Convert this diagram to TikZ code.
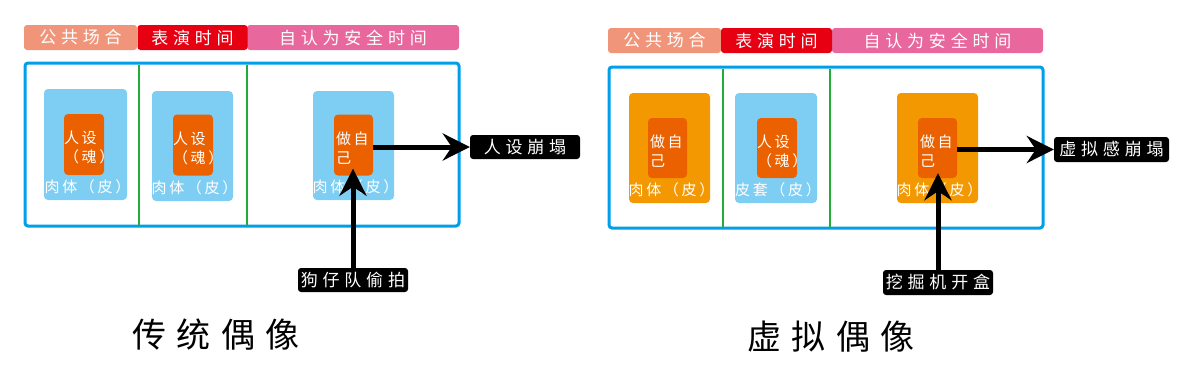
\documentclass[tikz,border=0pt]{standalone}
\usepackage{fontspec}
\newfontfamily\cjkhead[LetterSpace=28]{Noto Sans CJK SC}
\newfontfamily\cjkbox[LetterSpace=18]{Noto Sans CJK SC}
\newfontfamily\cjktitle[LetterSpace=30]{Noto Sans CJK SC}
\usetikzlibrary{arrows.meta,positioning,calc}
\definecolor{headsalmon}{HTML}{F0957A}
\definecolor{headred}{HTML}{E60012}
\definecolor{headpink}{HTML}{E8689E}
\definecolor{frameblue}{HTML}{00A0E9}
\definecolor{divgreen}{HTML}{22AC38}
\definecolor{skinblue}{HTML}{7ECEF4}
\definecolor{skinorange}{HTML}{F39800}
\definecolor{soulorange}{HTML}{EB6100}

\begin{document}
\begin{tikzpicture}[x=1pt,y=-1pt,
  seg/.style={rounded corners=3pt,minimum height=25pt,inner sep=0pt,text=white,font=\cjkhead\fontsize{17}{17}\selectfont},
  frame/.style={draw=frameblue,line width=3pt,rounded corners=3pt},
  divider/.style={draw=divgreen,line width=2.5pt},
  skin/.style={rounded corners=4pt,inner sep=0pt,minimum height=110pt},
  soul/.style={fill=soulorange,rounded corners=4pt,inner sep=0pt,minimum width=40pt,minimum height=61pt},
  boxtext/.style={text=white,font=\cjkbox\fontsize{15}{19}\selectfont,inner sep=0pt,align=left},
  tag/.style={fill=black,text=white,rounded corners=3pt,inner sep=0pt,minimum height=24pt,font=\cjkhead\fontsize{17}{17}\selectfont},
  bigarrow/.style={-{Stealth[length=27pt,width=27pt,inset=9pt]},line width=5pt},
  title/.style={font=\cjktitle\fontsize{34}{34}\selectfont}]
\useasboundingbox (0,0) rectangle (1192,383);

% traditional idol
\node[seg,fill=headsalmon,minimum width=113pt] (hpubL) at (80.5,37.5) {公共场合};
\node[seg,fill=headpink,minimum width=212pt] (hsafeL) at (353,37.5) {自认为安全时间};
\node[seg,fill=headred,minimum width=110pt] (hshowL) at (192.5,37.5) {表演时间};
\draw[frame] (25,63) rectangle (459,226);
\draw[divider] (139,64.5) -- (139,224.5);
\draw[divider] (247,64.5) -- (247,224.5);

\node[skin,fill=skinblue,minimum width=83pt,minimum height=111pt] (skinL1) at (85.5,144.5) {};
\node[skin,fill=skinblue,minimum width=81pt] (skinL2) at (192.5,146) {};
\node[skin,fill=skinblue,minimum width=81pt,minimum height=109pt] (skinL3) at (353.5,145.5) {};
\node[soul] (soulL1) at (84,144.5) {};
\node[soul] (soulL2) at (193,145) {};
\node[soul,minimum width=39pt] (soulL3) at (353.5,145) {};
\node[boxtext,anchor=west] at ([shift={(0pt,-3pt)}]soulL1.west) {人设\\（魂）};
\node[boxtext,anchor=west] at ([shift={(0pt,-3pt)}]soulL2.west) {人设\\（魂）};
\node[boxtext,anchor=west] at ([shift={(2pt,-3pt)}]soulL3.west) {做自\\己};
\node[boxtext] at ([shift={(2pt,13pt)}]skinL1.south) {肉体（皮）};
\node[boxtext] at ([shift={(2pt,13pt)}]skinL2.south) {肉体（皮）};
\node[boxtext] at ([shift={(2pt,13pt)}]skinL3.south) {肉体（皮）};

\node[tag,minimum width=110pt] (collapseL) at (525,147) {人设崩塌};
\node[tag,minimum width=110pt] (peekL) at (353,280) {狗仔队偷拍};
\draw[bigarrow] (soulL3.east |- collapseL) -- (collapseL.west);
\draw[bigarrow,shorten >=-7pt] (peekL.north) -- (peekL.north |- soulL3.south);
\node[title] (titleL) at (216,335) {传统偶像};

% virtual idol
\node[seg,fill=headsalmon,minimum width=113pt] (hpubR) at (664.5,40.5) {公共场合};
\node[seg,fill=headpink,minimum width=211pt] (hsafeR) at (937.5,40.5) {自认为安全时间};
\node[seg,fill=headred,minimum width=111pt] (hshowR) at (776.5,40.5) {表演时间};
\draw[frame] (609,67) rectangle (1043,228);
\draw[divider] (723,68.5) -- (723,226.5);
\draw[divider] (830,68.5) -- (830,226.5);

\node[skin,fill=skinorange,minimum width=81pt] (skinR1) at (669.5,148) {};
\node[skin,fill=skinblue,minimum width=82pt] (skinR2) at (776,148) {};
\node[skin,fill=skinorange,minimum width=81pt] (skinR3) at (937.5,148) {};
\node[soul,minimum width=39pt,minimum height=60pt] (soulR1) at (667.5,148) {};
\node[soul,minimum height=60pt] (soulR2) at (777,148) {};
\node[soul,minimum width=39pt,minimum height=60pt] (soulR3) at (937.5,148) {};
\node[boxtext,anchor=west] at ([shift={(2pt,-3pt)}]soulR1.west) {做自\\己};
\node[boxtext,anchor=west] at ([shift={(0pt,-3pt)}]soulR2.west) {人设\\（魂）};
\node[boxtext,anchor=west] at ([shift={(2pt,-3pt)}]soulR3.west) {做自\\己};
\node[boxtext] at ([shift={(2pt,13pt)}]skinR1.south) {肉体（皮）};
\node[boxtext] at ([shift={(2pt,13pt)}]skinR2.south) {皮套（皮）};
\node[boxtext] at ([shift={(2pt,13pt)}]skinR3.south) {肉体（皮）};

\node[tag,minimum width=115pt,minimum height=25pt] (collapseR) at (1111.5,149.5) {虚拟感崩塌};
\node[tag,minimum width=110pt,minimum height=25pt] (doxR) at (938,282.5) {挖掘机开盒};
\draw[bigarrow] (soulR3.east |- collapseR) -- (collapseR.west);
\draw[bigarrow,shorten >=-5pt] (doxR.north) -- (doxR.north |- soulR3.south);
\node[title] (titleR) at (831,337) {虚拟偶像};
\end{tikzpicture}
\end{document}
